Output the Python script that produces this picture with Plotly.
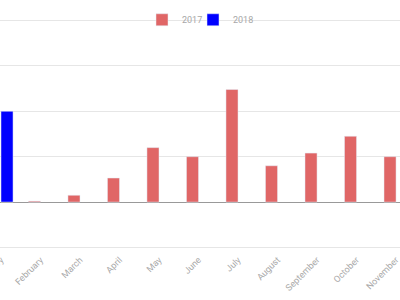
import plotly.graph_objects as go

months = ["January", "February", "March", "April", "May", "June", "July",
          "August", "September", "October", "November", "December"]
values_2017 = [None, 0.02, 0.15, 0.53, 1.2, 1.0, 2.48, 0.8, 1.08, 1.45, 1.0, 0.9]
values_2018 = [2.0, None, None, None, None, None, None, None, None, None, None, None]

fig = go.Figure()
fig.add_trace(go.Bar(name="2017", x=months, y=values_2017, marker_color="#e06666",
                     legend="legend"))
fig.add_trace(go.Bar(name="2018", x=months, y=values_2018, marker_color="#0000ff",
                     legend="legend2"))

legend_style = dict(orientation="h", yanchor="middle", xanchor="left",
                    bgcolor="rgba(0,0,0,0)", font=dict(size=9, color="#a8a8a8"),
                    itemwidth=30, borderwidth=0)

# plot area: top 16px, bottom 48px -> y range [-1.1, 4.1]
fig.update_layout(
    width=400, height=300,
    margin=dict(l=0, r=0, t=16, b=48, autoexpand=False),
    barmode="group", bargap=0.39, bargroupgap=0,
    plot_bgcolor="white", paper_bgcolor="white",
    font=dict(family="Roboto", size=9, color="#a8a8a8"),
    showlegend=True,
    legend=dict(legend_style, x=0.355, y=0.984),
    legend2=dict(legend_style, x=0.4825, y=0.984),
    xaxis=dict(range=[-0.025, 10.1], tickangle=-45, showgrid=False, automargin=False,
               ticks="", ticklabelstandoff=0, tickfont=dict(size=9, color="#a8a8a8")),
    yaxis=dict(range=[-1.1, 4.1], dtick=1, showticklabels=False, automargin=False,
               gridcolor="#e6e6e6", gridwidth=1,
               zeroline=True, zerolinecolor="#999999", zerolinewidth=1),
)

fig.write_html("out.html")
